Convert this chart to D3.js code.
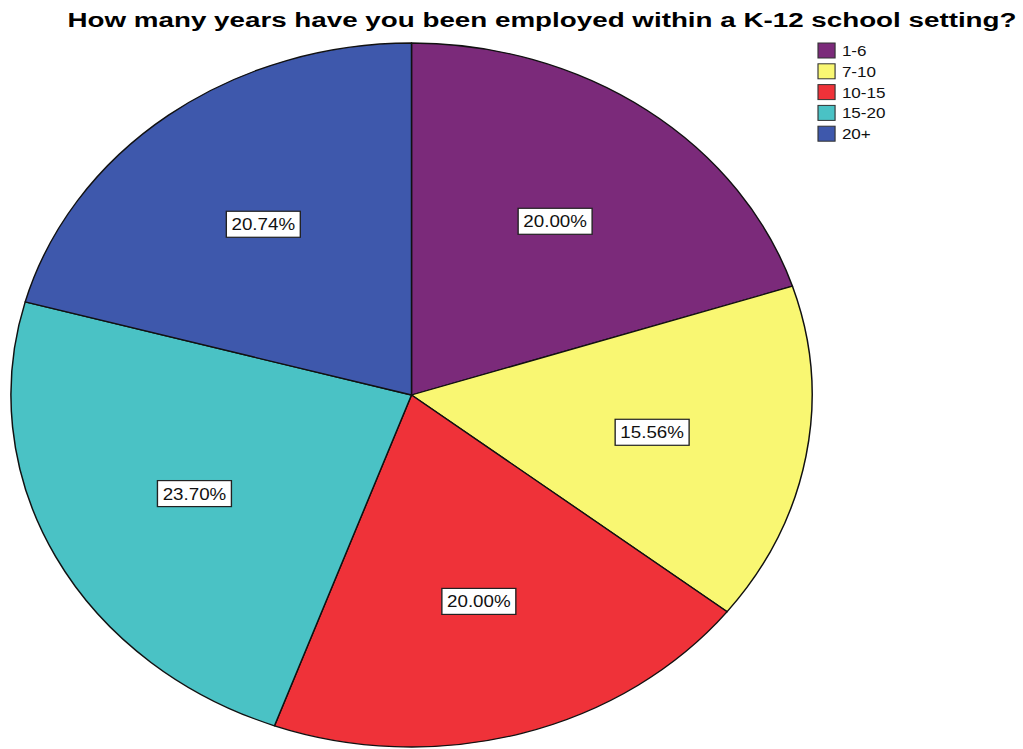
<!DOCTYPE html>
<html>
<head>
<meta charset="utf-8">
<script src="https://cdn.jsdelivr.net/npm/d3@7"></script>
<style>
  html, body { margin: 0; padding: 0; background: #fff; }
  svg { display: block; }
</style>
</head>
<body>
<svg id="chart" width="1023" height="749"></svg>
<script>
// Years employed within a K-12 school setting (respondent counts, n = 135)
const categories = ["1-6", "7-10", "10-15", "15-20", "20+"];
const counts = [27, 21, 27, 32, 28];
const percentLabels = ["20.00%", "15.56%", "20.00%", "23.70%", "20.74%"];
const colors = ["#7B2A7A", "#F9F772", "#EF3239", "#4AC2C5", "#3E58AC"];
const title = "How many years have you been employed within a K-12 school setting?";

const W = 1023, H = 749;
const sx = 1.138;            // horizontal stretch of the plot
const r = 352;
const cx = 411.5 / sx, cy = 395;

const svg = d3.select("#chart");
const root = svg.append("g").attr("transform", `scale(${sx},1)`);

const color = d3.scaleOrdinal().domain(categories).range(colors);

const pie = d3.pie().sort(null).value(d => d.count);
const data = categories.map((c, i) => ({ cat: c, count: counts[i], label: percentLabels[i] }));
const arcs = pie(data);

const arc = d3.arc().innerRadius(0).outerRadius(r);
const labelArc = d3.arc().innerRadius(r * 0.61).outerRadius(r * 0.61);

const pieG = root.append("g").attr("transform", `translate(${cx},${cy})`);

pieG.selectAll("path.slice")
  .data(arcs)
  .enter().append("path")
  .attr("class", "slice")
  .attr("d", arc)
  .attr("fill", d => color(d.data.cat))
  .attr("stroke", "#111")
  .attr("stroke-width", 1.3)
  .attr("stroke-linejoin", "round");

// Percentage labels in boxed callouts
const lab = pieG.selectAll("g.lab")
  .data(arcs)
  .enter().append("g")
  .attr("class", "lab")
  .attr("transform", d => `translate(${labelArc.centroid(d)})`);

lab.append("rect")
  .attr("x", -32.5).attr("y", -13)
  .attr("width", 65).attr("height", 26)
  .attr("fill", "#fff")
  .attr("stroke", "#222")
  .attr("stroke-width", 1.2);

lab.append("text")
  .attr("text-anchor", "middle")
  .attr("dy", "0.36em")
  .style("font-family", "Arial, 'Liberation Sans', sans-serif")
  .style("font-size", "16.5px")
  .attr("fill", "#111")
  .text(d => d.data.label);

// Title
root.append("text")
  .attr("x", 542 / sx)
  .attr("y", 27)
  .attr("text-anchor", "middle")
  .attr("textLength", 949 / sx)
  .attr("lengthAdjust", "spacingAndGlyphs")
  .style("font-family", "Arial, 'Liberation Sans', sans-serif")
  .style("font-weight", "bold")
  .style("font-size", "21px")
  .attr("fill", "#000")
  .text(title);

// Legend
const legend = root.append("g").attr("transform", `translate(${818 / sx},43)`);
const item = legend.selectAll("g.item")
  .data(categories)
  .enter().append("g")
  .attr("class", "item")
  .attr("transform", (d, i) => `translate(0,${i * 20.8})`);

item.append("rect")
  .attr("width", 15).attr("height", 15)
  .attr("fill", d => color(d))
  .attr("stroke", "#333")
  .attr("stroke-width", 1);

item.append("text")
  .attr("x", 21)
  .attr("y", 7.5)
  .attr("dy", "0.36em")
  .style("font-family", "Arial, 'Liberation Sans', sans-serif")
  .style("font-size", "15px")
  .attr("fill", "#111")
  .text(d => d);
</script>
</body>
</html>
